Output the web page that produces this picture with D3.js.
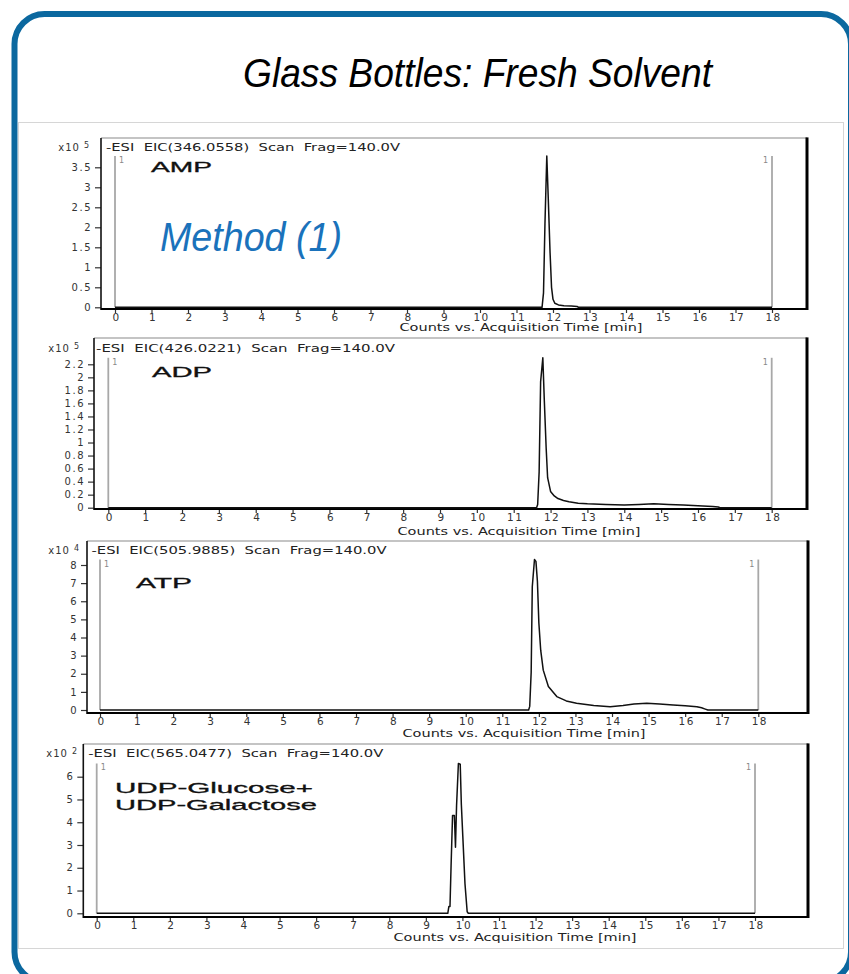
<!DOCTYPE html>
<html><head><meta charset="utf-8">
<script src="https://cdn.jsdelivr.net/npm/d3@7"></script>
<style>body{margin:0;background:#fff} svg{display:block}</style>
</head><body><svg id="c" width="849" height="974"></svg>
<script>
// ---------------- DATA ----------------
const titleText = "Glass Bottles: Fresh Solvent";
const methodText = "Method (1)";
const compoundNames = [["AMP"], ["ADP"], ["ATP"], ["UDP-Glucose+", "UDP-Galactose"]];
const headerTexts = [
  "-ESI  EIC(346.0558)  Scan  Frag=140.0V",
  "-ESI  EIC(426.0221)  Scan  Frag=140.0V",
  "-ESI  EIC(505.9885)  Scan  Frag=140.0V",
  "-ESI  EIC(565.0477)  Scan  Frag=140.0V"
];
const exponents = ["5", "5", "4", "2"];
const xAxisTitle = "Counts vs. Acquisition Time [min]";
const xTicks = [0, 1, 2, 3, 4, 5, 6, 7, 8, 9, 10, 11, 12, 13, 14, 15, 16, 17, 18];

const ampYTicks = [0, 0.5, 1, 1.5, 2, 2.5, 3, 3.5];
const adpYTicks = [0, 0.2, 0.4, 0.6, 0.8, 1, 1.2, 1.4, 1.6, 1.8, 2, 2.2];
const atpYTicks = [0, 1, 2, 3, 4, 5, 6, 7, 8];
const udpYTicks = [0, 1, 2, 3, 4, 5, 6];

// retention time (min) and counts (in units of the panel's x10^n)
const ampTime  = [0, 11.70, 11.74, 11.78, 11.83, 11.87, 11.92, 11.96, 12.00, 12.05, 12.15, 12.30, 12.50, 12.66, 12.70, 18];
const ampValue = [0, 0, 0.36, 2.1, 3.78, 2.73, 1.36, 0.5, 0.2, 0.1, 0.06, 0.04, 0.03, 0.02, 0, 0];

const adpTime  = [0, 11.62, 11.65, 11.69, 11.73, 11.79, 11.83, 11.88, 11.92, 12.00, 12.10, 12.20, 12.35, 12.50, 12.75, 13.00, 13.50, 14.00, 14.40, 14.80, 15.20, 15.60, 16.00, 16.40, 16.55, 16.60, 18];
const adpValue = [0, 0, 0.05, 0.55, 1.93, 2.30, 1.65, 0.92, 0.46, 0.25, 0.18, 0.14, 0.11, 0.09, 0.07, 0.06, 0.05, 0.04, 0.05, 0.06, 0.05, 0.04, 0.03, 0.02, 0.01, 0, 0];

const atpTime  = [0, 11.72, 11.75, 11.79, 11.82, 11.88, 11.92, 11.96, 12.00, 12.05, 12.12, 12.26, 12.49, 12.75, 13.03, 13.50, 13.95, 14.30, 14.60, 14.95, 15.30, 15.67, 16.00, 16.32, 16.45, 16.55, 16.62, 18];
const atpValue = [0, 0, 0.2, 2.1, 6.8, 8.3, 8.2, 7.1, 4.8, 3.3, 2.2, 1.3, 0.74, 0.5, 0.37, 0.25, 0.18, 0.25, 0.33, 0.37, 0.33, 0.28, 0.24, 0.18, 0.12, 0.05, 0, 0];

const udpTime  = [0, 9.60, 9.63, 9.66, 9.69, 9.73, 9.78, 9.81, 9.84, 9.89, 9.94, 9.97, 10.01, 10.07, 10.13, 10.16, 18];
const udpValue = [0, 0, 0.3, 0.3, 2.1, 4.3, 4.3, 2.9, 4.75, 6.58, 6.55, 4.8, 3.4, 1.3, 0.07, 0, 0];

// ---------------- LAYOUT ----------------
const panels = [
  {time: ampTime, value: ampValue, yTicks: ampYTicks,
   L: 101, T: 138, R: 807, B: 309, x0: 115, x18: 772, yZero: 307.3, yTopPix: 167.3,
   expX: 90, expY: 151, hdrX: 106, hdrY: 151, hdrW: 294,
   lblX: 151, lblY: [172], lblW: [61], lblSize: 14,
   xtX: 521, xtY: 331},
  {time: adpTime, value: adpValue, yTicks: adpYTicks,
   L: 94, T: 338, R: 807, B: 509, x0: 108.3, x18: 771.7, yZero: 507.7, yTopPix: 364.3,
   expX: 80, expY: 352, hdrX: 96, hdrY: 352, hdrW: 299,
   lblX: 152, lblY: [377], lblW: [60], lblSize: 14,
   xtX: 519, xtY: 535},
  {time: atpTime, value: atpValue, yTicks: atpYTicks,
   L: 87, T: 541, R: 808, B: 713, x0: 100, x18: 758.3, yZero: 710, yTopPix: 565,
   expX: 80, expY: 554, hdrX: 91.5, hdrY: 554, hdrW: 295,
   lblX: 136, lblY: [588], lblW: [56], lblSize: 15,
   xtX: 524, xtY: 737},
  {time: udpTime, value: udpValue, yTicks: udpYTicks,
   L: 83.3, T: 744, R: 808, B: 917, x0: 96.7, x18: 755, yZero: 913.3, yTopPix: 776.7,
   expX: 78, expY: 757, hdrX: 88.3, hdrY: 757, hdrW: 295,
   lblX: 115, lblY: [793, 810], lblW: [198, 202], lblSize: 14.5,
   xtX: 515, xtY: 941}
];

const svg = d3.select("#c");
svg.append("rect").attr("width", 849).attr("height", 974).attr("fill", "#fff");

// outer rounded frame
svg.append("rect").attr("x", 14.5).attr("y", 14).attr("width", 836.5).attr("height", 968)
  .attr("rx", 30).attr("fill", "none").attr("stroke", "#0b689f").attr("stroke-width", 6);
// inner light box
svg.append("rect").attr("x", 18.5).attr("y", 122.5).attr("width", 825).attr("height", 826)
  .attr("fill", "#fff").attr("stroke", "#d6d6d6").attr("stroke-width", 1);

svg.append("text").text(titleText)
  .attr("x", 243).attr("y", 87).attr("textLength", 469).attr("lengthAdjust", "spacingAndGlyphs")
  .attr("font-family", "'Liberation Sans',Arial,sans-serif")
  .attr("font-style", "italic").attr("font-size", 41).attr("fill", "#000");

const smallFont = "'DejaVu Sans',sans-serif";

panels.forEach((p, i) => {
  const g = svg.append("g");
  const x = d3.scaleLinear().domain([xTicks[0], xTicks[xTicks.length - 1]]).range([p.x0, p.x18]);
  const yMax = p.yTicks[p.yTicks.length - 1];
  const y = d3.scaleLinear().domain([0, yMax]).range([p.yZero, p.yTopPix]);

  // frame
  g.append("line").attr("x1", p.L).attr("x2", p.R).attr("y1", p.T).attr("y2", p.T)
    .attr("stroke", "#8a8a8a").attr("stroke-width", 1.2);
  g.append("line").attr("x1", p.R).attr("x2", p.R).attr("y1", p.T - 0.6).attr("y2", p.B + 1)
    .attr("stroke", "#000").attr("stroke-width", 3);

  // y axis
  const ya = d3.axisLeft(y).tickValues(p.yTicks).tickSize(6).tickPadding(3)
    .tickFormat(d3.format("~g"));
  const yg = g.append("g").attr("transform", `translate(${p.L},0)`).call(ya);
  yg.select(".domain").remove();
  yg.selectAll(".tick line").attr("stroke", "#333").attr("stroke-width", 1.2);
  yg.selectAll(".tick text").attr("font-family", smallFont).attr("font-size", 10)
    .attr("fill", "#333").style("letter-spacing", "1.5px");

  // x axis
  const xa = d3.axisBottom(x).tickValues(xTicks).tickSize(4).tickPadding(1)
    .tickFormat(d3.format("d"));
  const xg = g.append("g").attr("transform", `translate(0,${p.B})`).call(xa);
  xg.select(".domain").remove();
  xg.selectAll(".tick line").attr("stroke", "#333").attr("stroke-width", 1.2);
  xg.selectAll(".tick text").attr("font-family", smallFont).attr("font-size", 10.5)
    .attr("fill", "#333").style("letter-spacing", "1.5px").attr("dx", "0.1em");

  g.append("line").attr("x1", p.L).attr("x2", p.L).attr("y1", p.T).attr("y2", p.B + 1)
    .attr("stroke", "#111").attr("stroke-width", 1.6);
  g.append("line").attr("x1", p.L).attr("x2", p.R).attr("y1", p.B).attr("y2", p.B)
    .attr("stroke", "#000").attr("stroke-width", 2);

  // exponent label
  const ex = g.append("text").attr("x", p.expX).attr("y", p.expY).attr("text-anchor", "end")
    .attr("font-family", smallFont).attr("font-size", 10).attr("fill", "#333")
    .style("letter-spacing", "1px");
  ex.append("tspan").text("x10");
  ex.append("tspan").attr("dx", 4).attr("dy", -3).attr("font-size", 8).text(exponents[i]);

  // header
  g.append("text").text(headerTexts[i]).attr("x", p.hdrX).attr("y", p.hdrY)
    .attr("textLength", p.hdrW).attr("lengthAdjust", "spacingAndGlyphs")
    .style("white-space", "pre").attr("xml:space", "preserve")
    .attr("font-family", smallFont).attr("font-size", 10).attr("fill", "#222");

  // x axis title
  g.append("text").text(xAxisTitle).attr("x", p.xtX - 121.5).attr("y", p.xtY)
    .attr("textLength", 243).attr("lengthAdjust", "spacingAndGlyphs")
    .attr("font-family", smallFont).attr("font-size", 10).attr("fill", "#222");

  // markers "1" at start and end
  const vmax = d3.max(p.value);
  [xTicks[0], xTicks[xTicks.length - 1]].forEach((t, k) => {
    g.append("line").attr("x1", x(t)).attr("x2", x(t)).attr("y1", y(vmax)).attr("y2", p.yZero)
      .attr("stroke", "#a8a8a8").attr("stroke-width", 1.8);
    g.append("text").text("1").attr("x", k === 0 ? x(t) + 4 : x(t) - 9).attr("y", y(vmax) + 7)
      .attr("font-family", smallFont).attr("font-size", 8).attr("fill", "#888");
  });

  // trace
  const pts = p.time.map((t, j) => [t, p.value[j]]);
  g.append("path").datum(pts)
    .attr("d", d3.line().x(d => x(d[0])).y(d => y(d[1])))
    .attr("fill", "none").attr("stroke", "#111").attr("stroke-width", 1.5)
    .attr("stroke-linejoin", "round");

  // compound label
  compoundNames[i].forEach((nm, k) => {
    g.append("text").text(nm).attr("x", p.lblX).attr("y", p.lblY[k])
      .attr("textLength", p.lblW[k]).attr("lengthAdjust", "spacingAndGlyphs")
      .attr("font-family", "'Liberation Sans',Arial,sans-serif").attr("font-size", p.lblSize)
      .attr("fill", "#111").attr("stroke", "#111").attr("stroke-width", 0.3);
  });
});

svg.append("text").text(methodText).attr("x", 160).attr("y", 251)
  .attr("textLength", 182).attr("lengthAdjust", "spacingAndGlyphs")
  .attr("font-family", "'Liberation Sans',Arial,sans-serif")
  .attr("font-style", "italic").attr("font-size", 41).attr("fill", "#1a72bb");
</script></body></html>
